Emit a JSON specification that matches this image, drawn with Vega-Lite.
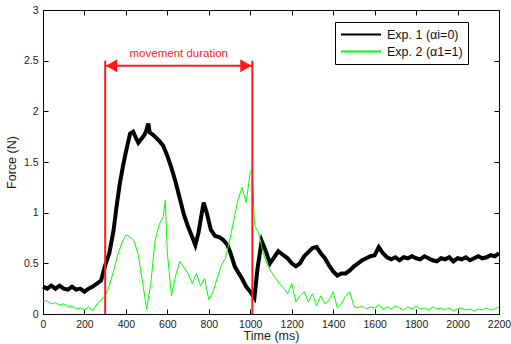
{
"$schema": "https://vega.github.io/schema/vega-lite/v6.json",
"width": 456, "height": 304,
"autosize": {"type": "none"},
"padding": {"left": 43, "top": 10, "right": 12, "bottom": 30},
"config": {
  "view": {"stroke": "#000", "strokeWidth": 1},
  "font": "Liberation Sans",
  "axis": {"grid": false, "domain": false, "tickColor": "#000", "tickSize": -5, "labelPadding": 10, "labelFlush": false, "labelOverlap": false,
           "labelFont": "Liberation Sans", "labelFontSize": 10.5, "labelColor": "#222",
           "titleFont": "Liberation Sans", "titleFontSize": 12.5, "titleFontWeight": "normal", "titleColor": "#222"},
  "legend": {"orient": "none", "legendX": 292, "legendY": 12, "strokeColor": "#000", "fillColor": "#fff", "padding": 5,
             "symbolType": "stroke", "symbolSize": 1600, "labelFont": "Liberation Sans", "labelFontSize": 12.5, "labelColor": "#111",
             "clipHeight": 15, "labelOffset": 5, "rowPadding": 2}
},
"data": {"values": [
{"t":0,"f":0.27,"s":"e1"},{"t":20,"f":0.25,"s":"e1"},{"t":40,"f":0.28,"s":"e1"},{"t":60,"f":0.25,"s":"e1"},{"t":80,"f":0.28,"s":"e1"},{"t":100,"f":0.25,"s":"e1"},{"t":120,"f":0.24,"s":"e1"},{"t":140,"f":0.27,"s":"e1"},{"t":160,"f":0.24,"s":"e1"},{"t":180,"f":0.25,"s":"e1"},{"t":200,"f":0.22,"s":"e1"},{"t":220,"f":0.25,"s":"e1"},{"t":240,"f":0.27,"s":"e1"},{"t":260,"f":0.3,"s":"e1"},{"t":280,"f":0.33,"s":"e1"},{"t":300,"f":0.48,"s":"e1"},{"t":320,"f":0.6,"s":"e1"},{"t":340,"f":0.82,"s":"e1"},{"t":355,"f":1.06,"s":"e1"},{"t":370,"f":1.28,"s":"e1"},{"t":385,"f":1.45,"s":"e1"},{"t":400,"f":1.6,"s":"e1"},{"t":420,"f":1.78,"s":"e1"},{"t":435,"f":1.8,"s":"e1"},{"t":450,"f":1.73,"s":"e1"},{"t":460,"f":1.69,"s":"e1"},{"t":475,"f":1.73,"s":"e1"},{"t":490,"f":1.77,"s":"e1"},{"t":500,"f":1.82,"s":"e1"},{"t":508,"f":1.88,"s":"e1"},{"t":515,"f":1.79,"s":"e1"},{"t":530,"f":1.77,"s":"e1"},{"t":545,"f":1.74,"s":"e1"},{"t":560,"f":1.71,"s":"e1"},{"t":580,"f":1.66,"s":"e1"},{"t":600,"f":1.56,"s":"e1"},{"t":620,"f":1.44,"s":"e1"},{"t":640,"f":1.3,"s":"e1"},{"t":660,"f":1.14,"s":"e1"},{"t":680,"f":0.98,"s":"e1"},{"t":700,"f":0.86,"s":"e1"},{"t":720,"f":0.76,"s":"e1"},{"t":735,"f":0.68,"s":"e1"},{"t":750,"f":0.8,"s":"e1"},{"t":765,"f":0.98,"s":"e1"},{"t":775,"f":1.1,"s":"e1"},{"t":790,"f":1.0,"s":"e1"},{"t":810,"f":0.83,"s":"e1"},{"t":830,"f":0.77,"s":"e1"},{"t":850,"f":0.76,"s":"e1"},{"t":870,"f":0.73,"s":"e1"},{"t":890,"f":0.68,"s":"e1"},{"t":905,"f":0.6,"s":"e1"},{"t":925,"f":0.47,"s":"e1"},{"t":945,"f":0.4,"s":"e1"},{"t":960,"f":0.35,"s":"e1"},{"t":980,"f":0.27,"s":"e1"},{"t":1000,"f":0.22,"s":"e1"},{"t":1020,"f":0.16,"s":"e1"},{"t":1035,"f":0.45,"s":"e1"},{"t":1055,"f":0.72,"s":"e1"},{"t":1075,"f":0.62,"s":"e1"},{"t":1095,"f":0.5,"s":"e1"},{"t":1115,"f":0.56,"s":"e1"},{"t":1135,"f":0.62,"s":"e1"},{"t":1160,"f":0.58,"s":"e1"},{"t":1180,"f":0.55,"s":"e1"},{"t":1200,"f":0.5,"s":"e1"},{"t":1220,"f":0.47,"s":"e1"},{"t":1240,"f":0.5,"s":"e1"},{"t":1260,"f":0.57,"s":"e1"},{"t":1280,"f":0.61,"s":"e1"},{"t":1300,"f":0.65,"s":"e1"},{"t":1320,"f":0.66,"s":"e1"},{"t":1340,"f":0.6,"s":"e1"},{"t":1360,"f":0.55,"s":"e1"},{"t":1380,"f":0.48,"s":"e1"},{"t":1400,"f":0.42,"s":"e1"},{"t":1420,"f":0.38,"s":"e1"},{"t":1440,"f":0.4,"s":"e1"},{"t":1460,"f":0.4,"s":"e1"},{"t":1480,"f":0.43,"s":"e1"},{"t":1500,"f":0.47,"s":"e1"},{"t":1520,"f":0.5,"s":"e1"},{"t":1540,"f":0.53,"s":"e1"},{"t":1560,"f":0.55,"s":"e1"},{"t":1580,"f":0.57,"s":"e1"},{"t":1600,"f":0.58,"s":"e1"},{"t":1620,"f":0.66,"s":"e1"},{"t":1640,"f":0.6,"s":"e1"},{"t":1660,"f":0.56,"s":"e1"},{"t":1680,"f":0.54,"s":"e1"},{"t":1700,"f":0.56,"s":"e1"},{"t":1720,"f":0.53,"s":"e1"},{"t":1740,"f":0.56,"s":"e1"},{"t":1760,"f":0.55,"s":"e1"},{"t":1780,"f":0.57,"s":"e1"},{"t":1800,"f":0.55,"s":"e1"},{"t":1820,"f":0.54,"s":"e1"},{"t":1840,"f":0.57,"s":"e1"},{"t":1860,"f":0.55,"s":"e1"},{"t":1880,"f":0.53,"s":"e1"},{"t":1900,"f":0.52,"s":"e1"},{"t":1920,"f":0.55,"s":"e1"},{"t":1940,"f":0.54,"s":"e1"},{"t":1960,"f":0.56,"s":"e1"},{"t":1980,"f":0.52,"s":"e1"},{"t":2000,"f":0.55,"s":"e1"},{"t":2020,"f":0.54,"s":"e1"},{"t":2040,"f":0.56,"s":"e1"},{"t":2060,"f":0.53,"s":"e1"},{"t":2080,"f":0.55,"s":"e1"},{"t":2100,"f":0.57,"s":"e1"},{"t":2120,"f":0.55,"s":"e1"},{"t":2140,"f":0.56,"s":"e1"},{"t":2160,"f":0.58,"s":"e1"},{"t":2180,"f":0.57,"s":"e1"},{"t":2200,"f":0.6,"s":"e1"},
{"t":0,"f":0.12,"s":"e2"},{"t":20,"f":0.13,"s":"e2"},{"t":40,"f":0.1,"s":"e2"},{"t":60,"f":0.11,"s":"e2"},{"t":80,"f":0.09,"s":"e2"},{"t":100,"f":0.1,"s":"e2"},{"t":120,"f":0.07,"s":"e2"},{"t":140,"f":0.08,"s":"e2"},{"t":160,"f":0.05,"s":"e2"},{"t":180,"f":0.06,"s":"e2"},{"t":200,"f":0.04,"s":"e2"},{"t":220,"f":0.07,"s":"e2"},{"t":240,"f":0.03,"s":"e2"},{"t":260,"f":0.1,"s":"e2"},{"t":280,"f":0.14,"s":"e2"},{"t":300,"f":0.18,"s":"e2"},{"t":320,"f":0.28,"s":"e2"},{"t":340,"f":0.42,"s":"e2"},{"t":360,"f":0.58,"s":"e2"},{"t":380,"f":0.7,"s":"e2"},{"t":400,"f":0.78,"s":"e2"},{"t":420,"f":0.76,"s":"e2"},{"t":440,"f":0.72,"s":"e2"},{"t":460,"f":0.58,"s":"e2"},{"t":480,"f":0.32,"s":"e2"},{"t":500,"f":0.05,"s":"e2"},{"t":520,"f":0.3,"s":"e2"},{"t":540,"f":0.72,"s":"e2"},{"t":560,"f":0.88,"s":"e2"},{"t":580,"f":0.96,"s":"e2"},{"t":590,"f":1.12,"s":"e2"},{"t":600,"f":0.6,"s":"e2"},{"t":620,"f":0.18,"s":"e2"},{"t":640,"f":0.38,"s":"e2"},{"t":660,"f":0.52,"s":"e2"},{"t":680,"f":0.46,"s":"e2"},{"t":700,"f":0.4,"s":"e2"},{"t":720,"f":0.3,"s":"e2"},{"t":740,"f":0.4,"s":"e2"},{"t":760,"f":0.28,"s":"e2"},{"t":780,"f":0.35,"s":"e2"},{"t":800,"f":0.14,"s":"e2"},{"t":820,"f":0.22,"s":"e2"},{"t":840,"f":0.35,"s":"e2"},{"t":860,"f":0.48,"s":"e2"},{"t":880,"f":0.55,"s":"e2"},{"t":900,"f":0.72,"s":"e2"},{"t":920,"f":0.92,"s":"e2"},{"t":940,"f":1.12,"s":"e2"},{"t":960,"f":1.25,"s":"e2"},{"t":980,"f":1.1,"s":"e2"},{"t":1000,"f":1.4,"s":"e2"},{"t":1010,"f":1.42,"s":"e2"},{"t":1020,"f":0.88,"s":"e2"},{"t":1040,"f":0.8,"s":"e2"},{"t":1060,"f":0.62,"s":"e2"},{"t":1080,"f":0.5,"s":"e2"},{"t":1100,"f":0.42,"s":"e2"},{"t":1120,"f":0.36,"s":"e2"},{"t":1140,"f":0.3,"s":"e2"},{"t":1160,"f":0.26,"s":"e2"},{"t":1180,"f":0.2,"s":"e2"},{"t":1200,"f":0.3,"s":"e2"},{"t":1220,"f":0.12,"s":"e2"},{"t":1240,"f":0.18,"s":"e2"},{"t":1260,"f":0.22,"s":"e2"},{"t":1280,"f":0.12,"s":"e2"},{"t":1300,"f":0.2,"s":"e2"},{"t":1320,"f":0.08,"s":"e2"},{"t":1340,"f":0.18,"s":"e2"},{"t":1360,"f":0.1,"s":"e2"},{"t":1380,"f":0.14,"s":"e2"},{"t":1400,"f":0.22,"s":"e2"},{"t":1420,"f":0.06,"s":"e2"},{"t":1440,"f":0.1,"s":"e2"},{"t":1460,"f":0.18,"s":"e2"},{"t":1480,"f":0.22,"s":"e2"},{"t":1500,"f":0.08,"s":"e2"},{"t":1520,"f":0.06,"s":"e2"},{"t":1540,"f":0.08,"s":"e2"},{"t":1560,"f":0.05,"s":"e2"},{"t":1580,"f":0.07,"s":"e2"},{"t":1600,"f":0.06,"s":"e2"},{"t":1620,"f":0.09,"s":"e2"},{"t":1640,"f":0.05,"s":"e2"},{"t":1660,"f":0.07,"s":"e2"},{"t":1680,"f":0.05,"s":"e2"},{"t":1700,"f":0.08,"s":"e2"},{"t":1720,"f":0.06,"s":"e2"},{"t":1740,"f":0.04,"s":"e2"},{"t":1760,"f":0.07,"s":"e2"},{"t":1780,"f":0.05,"s":"e2"},{"t":1800,"f":0.08,"s":"e2"},{"t":1820,"f":0.05,"s":"e2"},{"t":1840,"f":0.06,"s":"e2"},{"t":1860,"f":0.04,"s":"e2"},{"t":1880,"f":0.07,"s":"e2"},{"t":1900,"f":0.05,"s":"e2"},{"t":1920,"f":0.06,"s":"e2"},{"t":1940,"f":0.04,"s":"e2"},{"t":1960,"f":0.06,"s":"e2"},{"t":1980,"f":0.03,"s":"e2"},{"t":2000,"f":0.05,"s":"e2"},{"t":2020,"f":0.06,"s":"e2"},{"t":2040,"f":0.04,"s":"e2"},{"t":2060,"f":0.05,"s":"e2"},{"t":2080,"f":0.03,"s":"e2"},{"t":2100,"f":0.05,"s":"e2"},{"t":2120,"f":0.04,"s":"e2"},{"t":2140,"f":0.06,"s":"e2"},{"t":2160,"f":0.04,"s":"e2"},{"t":2180,"f":0.05,"s":"e2"},{"t":2200,"f":0.07,"s":"e2"}
]},
"layer": [
  {
    "transform": [{"filter": "datum.s == 'e1'"}],
    "mark": {"type": "line", "strokeWidth": 4, "strokeJoin": "miter"},
    "encoding": {
      "x": {"field": "t", "type": "quantitative", "scale": {"domain": [0, 2200], "nice": false},
            "axis": {"values": [0,200,400,600,800,1000,1200,1400,1600,1800,2000,2200], "format": "d", "title": "Time (ms)", "titlePadding": 0}},
      "y": {"field": "f", "type": "quantitative", "scale": {"domain": [0, 3], "nice": false},
            "axis": {"values": [0,0.5,1,1.5,2,2.5,3], "format": "~g", "title": "Force (N)", "titlePadding": 5}},
      "color": {"field": "s", "type": "nominal", "scale": {"domain": ["e1","e2"], "range": ["#000000","#00ff00"]},
                "legend": {"title": null, "labelExpr": "datum.value == 'e1' ? 'Exp. 1 (\u03b1i=0)' : 'Exp. 2 (\u03b11=1)'",
                           "symbolType": "stroke", "symbolSize": 1600, "symbolStrokeWidth": 2}}
    }
  },
  {
    "transform": [{"filter": "datum.s == 'e2'"}],
    "mark": {"type": "line", "strokeWidth": 1},
    "encoding": {
      "x": {"field": "t", "type": "quantitative", "axis": {"orient": "top", "values": [0,200,400,600,800,1000,1200,1400,1600,1800,2000,2200], "labels": false, "title": null}},
      "y": {"field": "f", "type": "quantitative", "axis": {"orient": "right", "values": [0,0.5,1,1.5,2,2.5,3], "labels": false, "title": null}},
      "color": {"field": "s", "type": "nominal"}
    }
  },
  {
    "data": {"values": [{"t": 300}, {"t": 1010}]},
    "mark": {"type": "rule", "color": "#ff1a1a", "strokeWidth": 2},
    "encoding": {
      "x": {"field": "t", "type": "quantitative", "axis": null},
      "y": {"datum": 0, "axis": null},
      "y2": {"datum": 2.5}
    }
  },
  {
    "data": {"values": [{}]},
    "mark": {"type": "rule", "color": "#ff1a1a", "strokeWidth": 2},
    "encoding": {
      "x": {"datum": 300, "axis": null},
      "x2": {"datum": 1010},
      "y": {"datum": 2.45, "axis": null}
    }
  },
  {
    "data": {"values": [{"t": 331, "sh": "triangle-left"}, {"t": 979, "sh": "triangle-right"}]},
    "mark": {"type": "point", "filled": true, "opacity": 1, "color": "#ff1a1a", "size": 170},
    "encoding": {
      "x": {"field": "t", "type": "quantitative", "axis": null},
      "y": {"datum": 2.45, "axis": null},
      "shape": {"field": "sh", "type": "nominal", "scale": null, "legend": null}
    }
  },
  {
    "data": {"values": [{"label": "movement duration"}]},
    "mark": {"type": "text", "color": "#ff2020", "fontSize": 11.5, "font": "Liberation Sans"},
    "encoding": {
      "x": {"datum": 655, "axis": null},
      "y": {"datum": 2.57, "axis": null},
      "text": {"field": "label"}
    }
  }
],
"resolve": {"axis": {"x": "independent", "y": "independent"}}
}
